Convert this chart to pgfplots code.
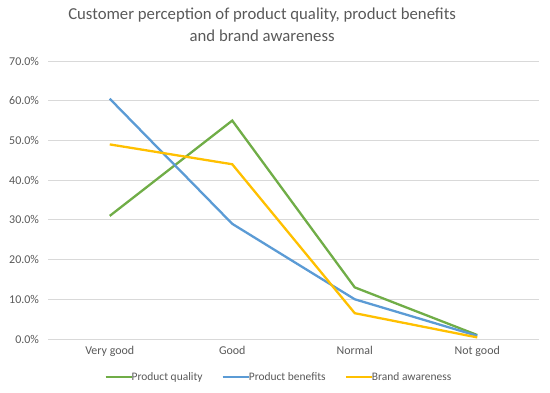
\documentclass[border=0pt]{standalone}
\usepackage{pgfplots}
\pgfplotsset{compat=1.18}
\usepackage{fontspec}
\setmainfont{Carlito}
\definecolor{cgreen}{HTML}{70AD47}
\definecolor{cblue}{HTML}{5B9BD5}
\definecolor{cyellow}{HTML}{FFC000}
\definecolor{ctext}{HTML}{595959}
\definecolor{cgrid}{HTML}{D9D9D9}
\begin{document}
\begin{tikzpicture}
\path[use as bounding box] (-48.5bp,-54bp) rectangle (501.5bp,339bp);
\begin{axis}[
  at={(0,0)}, anchor=south west,
  scale only axis, width=490bp, height=278bp,
  xmin=-0.5, xmax=3.5, ymin=0, ymax=70,
  xtick={0,1,2,3},
  xticklabels={Very good,Good,Normal,Not good},
  ytick={0,10,...,70},
  yticklabel={\pgfmathprintnumber[fixed,fixed zerofill,precision=1]{\tick}\%},
  /pgf/number format/assume math mode=true,
  tick label style={font=\fontsize{12}{14}\selectfont, text=ctext},
  ymajorgrids, grid style={cgrid, line width=0.8bp},
  axis x line*=bottom, axis y line*=left,
  x axis line style={cgrid, line width=0.8bp},
  y axis line style={draw=none},
  major tick length=0pt,
  xticklabel style={yshift=-4bp},
  yticklabel style={xshift=-6bp},
  title={Customer perception of product quality, product benefits\\and brand awareness},
  title style={at={(0.436,1)}, font=\fontsize{16.8}{22}\selectfont, text=ctext, align=center, yshift=10bp},
  legend style={at={(0.47,-0.105)}, anchor=north, draw=none, legend columns=3,
    font=\fontsize{11.5}{13}\selectfont, text=ctext,
    /tikz/every even column/.append style={column sep=17bp},
    /tikz/every odd column/.append style={column sep=-3bp}},
  legend image code/.code={\draw[#1] (0bp,0bp) -- (26bp,0bp);},
  every axis plot/.append style={line width=2.3bp},
]
\addplot[cgreen] coordinates {(0,31) (1,55) (2,13) (3,1)};
\addlegendentry{Product quality}
\addplot[cblue] coordinates {(0,60.5) (1,29) (2,10) (3,0.8)};
\addlegendentry{Product benefits}
\addplot[cyellow] coordinates {(0,49) (1,44) (2,6.5) (3,0.4)};
\addlegendentry{Brand awareness}
\end{axis}
\end{tikzpicture}
\end{document}
